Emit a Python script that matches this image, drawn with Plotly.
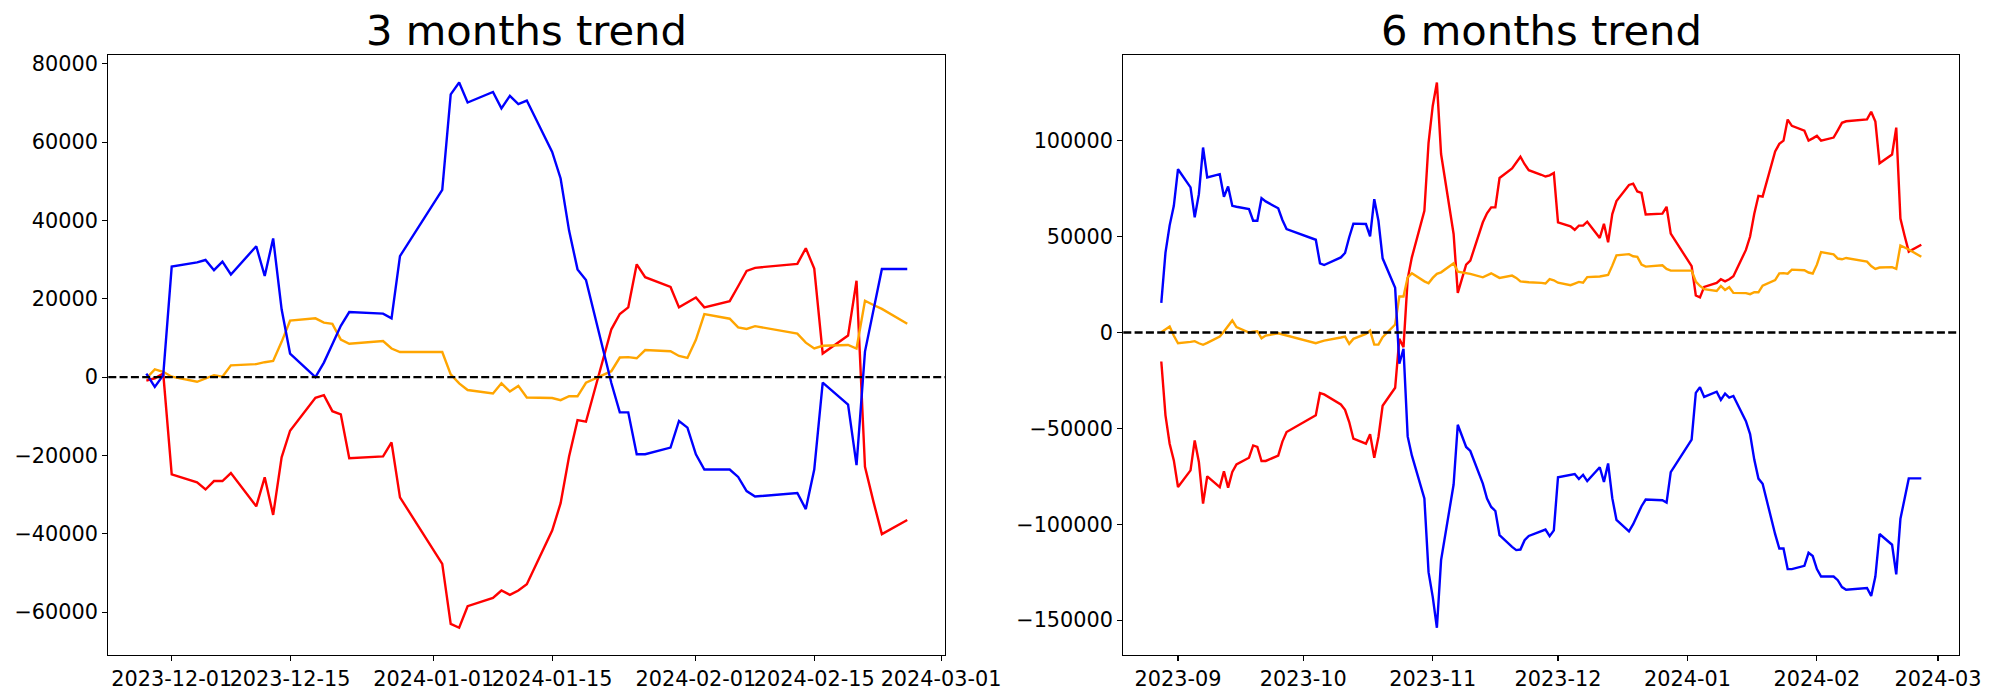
import plotly.graph_objects as go

# ---------------- data: 3 months (trading days) ----------------
dates_3m = ["2023-11-28", "2023-11-29", "2023-11-30", "2023-12-01", "2023-12-04", "2023-12-05",
            "2023-12-06", "2023-12-07", "2023-12-08", "2023-12-11", "2023-12-12", "2023-12-13",
            "2023-12-14", "2023-12-15", "2023-12-18", "2023-12-19", "2023-12-20", "2023-12-21",
            "2023-12-22", "2023-12-26", "2023-12-27", "2023-12-28", "2024-01-02", "2024-01-03",
            "2024-01-04", "2024-01-05", "2024-01-08", "2024-01-09", "2024-01-10", "2024-01-11",
            "2024-01-12", "2024-01-15", "2024-01-16", "2024-01-17", "2024-01-18", "2024-01-19",
            "2024-01-22", "2024-01-23", "2024-01-24", "2024-01-25", "2024-01-26", "2024-01-29",
            "2024-01-30", "2024-01-31", "2024-02-01", "2024-02-02", "2024-02-05", "2024-02-06",
            "2024-02-07", "2024-02-08", "2024-02-13", "2024-02-14", "2024-02-15", "2024-02-16",
            "2024-02-19", "2024-02-20", "2024-02-21", "2024-02-22", "2024-02-23", "2024-02-26"]

blue_3m = [900, -2500, 500, 28200, 29300, 29900, 27300, 29500, 26200, 33400,
           25800, 35400, 17300, 6000, 0, 3700, 8400, 13100, 16600, 16200,
           15000, 30900, 47800, 72200, 75200, 70100, 72800, 68600, 71800, 69700,
           70600, 57500, 50700, 37400, 27500, 24800, -1500, -9000, -9000, -19700,
           -19700, -18000, -11200, -12900, -19700, -23600, -23600, -25500, -29100, -30500,
           -29600, -33700, -23600, -1400, -7000, -22500, 6500, 17500, 27600, 27600]

red_3m = [-900, -300, 900, -24850, -26900, -28700, -26550, -26550, -24500, -33000,
          -25600, -35200, -20500, -13700, -5300, -4600, -8700, -9500, -20700, -20250,
          -16700, -30700, -47700, -63000, -64000, -58500, -56400, -54500, -55600, -54500,
          -52900, -39200, -32200, -20300, -11000, -11400, 12200, 16100, 17800, 28800,
          25500, 23000, 17800, 19000, 20300, 17800, 19400, 23200, 27100, 27900,
          28900, 32900, 27700, 6000, 10600, 24600, -22900, -31800, -40100, -36500]

orange_3m = [-300, 1950, 1350, 100, -1200, -350, 500, 100, 3000, 3300,
             3800, 4100, 9000, 14400, 15000, 13900, 13600, 9600, 8500, 9200,
             7300, 6400, 6400, 700, -1600, -3300, -4200, -1600, -3700, -2250,
             -5200, -5350, -5900, -4900, -4900, -1450, 1500, 5000, 5100, 4800,
             6900, 6600, 5400, 4900, 9500, 16100, 14900, 12700, 12300, 13000,
             11100, 8800, 7300, 8000, 8200, 7300, 19500, 18400, 17400, 13600]

# ---------------- data: 6 months (trading days) ----------------
dates_6m = ["2023-08-28", "2023-08-29", "2023-08-30", "2023-08-31", "2023-09-01", "2023-09-04",
            "2023-09-05", "2023-09-06", "2023-09-07", "2023-09-08", "2023-09-11", "2023-09-12",
            "2023-09-13", "2023-09-14", "2023-09-15", "2023-09-18", "2023-09-19", "2023-09-20",
            "2023-09-21", "2023-09-22", "2023-09-25", "2023-09-26", "2023-09-27", "2023-10-04",
            "2023-10-05", "2023-10-06", "2023-10-10", "2023-10-11", "2023-10-12", "2023-10-13",
            "2023-10-16", "2023-10-17", "2023-10-18", "2023-10-19", "2023-10-20", "2023-10-23",
            "2023-10-24", "2023-10-25", "2023-10-26", "2023-10-27", "2023-10-30", "2023-10-31",
            "2023-11-01", "2023-11-02", "2023-11-03", "2023-11-06", "2023-11-07", "2023-11-08",
            "2023-11-09", "2023-11-10", "2023-11-13", "2023-11-14", "2023-11-15", "2023-11-16",
            "2023-11-17", "2023-11-20", "2023-11-21", "2023-11-22", "2023-11-23", "2023-11-24",
            "2023-11-27",
            "2023-11-28", "2023-11-29", "2023-11-30", "2023-12-01", "2023-12-04", "2023-12-05",
            "2023-12-06", "2023-12-07", "2023-12-08", "2023-12-11", "2023-12-12", "2023-12-13",
            "2023-12-14", "2023-12-15", "2023-12-18", "2023-12-19", "2023-12-20", "2023-12-21",
            "2023-12-22", "2023-12-26", "2023-12-27", "2023-12-28", "2024-01-02", "2024-01-03",
            "2024-01-04", "2024-01-05", "2024-01-08", "2024-01-09", "2024-01-10", "2024-01-11",
            "2024-01-12", "2024-01-15", "2024-01-16", "2024-01-17", "2024-01-18", "2024-01-19",
            "2024-01-22", "2024-01-23", "2024-01-24", "2024-01-25", "2024-01-26", "2024-01-29",
            "2024-01-30", "2024-01-31", "2024-02-01", "2024-02-02", "2024-02-05", "2024-02-06",
            "2024-02-07", "2024-02-08", "2024-02-13", "2024-02-14", "2024-02-15", "2024-02-16",
            "2024-02-19", "2024-02-20", "2024-02-21", "2024-02-22", "2024-02-23", "2024-02-26"]

blue_6m = [15500, 41700, 55900, 66100, 85200, 75700, 60100, 72200, 96500, 80900,
           82600, 70800, 76200, 66100, 65600, 64400, 58300, 58300, 70100, 68400,
           64800, 58700, 54000, 48400, 36100, 35200, 39200, 41500, 49700, 56800,
           56600, 50200, 69600, 58300, 38700, 23300, -16300, -8500, -54200, -64100,
           -86600, -125000, -137900, -154000, -118700, -79300, -48100, -54200, -59700, -61800,
           -78800, -86600, -91000, -93100, -105700, -111800, -113500, -113200, -108300, -106100,
           -103700,
           -102800, -106200, -103200, -75500, -74400, -73800, -76400, -74200, -77500, -70300,
           -77900, -68300, -86400, -97700, -103700, -100000, -95300, -90600, -87100, -87500,
           -88700, -72800, -55900, -31500, -28500, -33600, -30900, -35100, -31900, -34000,
           -33100, -46200, -53000, -66300, -76200, -78900, -105200, -112700, -112700, -123400,
           -123400, -121700, -114900, -116600, -123400, -127300, -127300, -129200, -132800, -134200,
           -133300, -137400, -127300, -105100, -110700, -126200, -97200, -86200, -76100, -76100]

red_6m = [-15100, -43200, -58000, -66700, -80600, -71900, -56300, -67500, -89200, -75000,
          -80600, -72400, -80900, -72700, -68800, -65300, -58900, -59700, -67000, -67000,
          -64200, -56900, -51900, -43200, -31600, -32300, -37500, -40300, -46700, -55400,
          -58000, -53100, -65300, -54500, -38200, -28800, -3300, -7600, 28000, 39200,
          63500, 99000, 118200, 130400, 93100, 51400, 20700, 28800, 35400, 37500,
          57500, 62200, 65300, 65300, 80600, 85600, 88700, 91700, 87800, 84700,
          82300,
          81400, 82000, 83200, 57450, 55400, 53600, 55750, 55750, 57800, 49300,
          56700, 47100, 61800, 68600, 77000, 77700, 73600, 72800, 61600, 62050,
          65600, 51600, 34600, 19300, 18300, 23800, 25900, 27800, 26700, 27800,
          29400, 43100, 50100, 62000, 71300, 70900, 94500, 98400, 100100, 111100,
          107800, 105300, 100100, 101300, 102600, 100100, 101700, 105500, 109400, 110200,
          111200, 115200, 110000, 88300, 92900, 106900, 59400, 50500, 42200, 45800]

orange_6m = [200, 1700, 3100, -1700, -5600, -4900, -4500, -5600, -6400, -5400,
             -2100, 500, 3100, 6300, 2800, 0, 400, 700, -3000, -1600,
             -400, -1000, -1700, -5600, -4900, -4200, -2600, -2100, -5900, -3300,
             -700, 1000, -6300, -6300, -2400, 4200, 18800, 18800, 28800, 30900,
             26700, 25700, 28500, 30600, 31400, 36100, 31800, 31400, 31100, 30600,
             28800, 29900, 30900, 29700, 28500, 29700, 28500, 26700, 26400, 26200,
             25900,
             25600, 27850, 27250, 26000, 24700, 25550, 26400, 26000, 28900, 29200,
             29700, 30000, 34900, 40300, 40900, 39800, 39500, 35500, 34400, 35100,
             33200, 32300, 32300, 26600, 24300, 22600, 21700, 24300, 22200, 23650,
             20700, 20550, 20000, 21000, 21000, 24450, 27400, 30900, 31000, 30700,
             32800, 32500, 31300, 30800, 35400, 42000, 40800, 38600, 38200, 38900,
             37000, 34700, 33200, 33900, 34100, 33200, 45400, 44300, 43300, 39500]

# ---------------- tick labels ----------------
xticks_3m = ["2023-12-01", "2023-12-15", "2024-01-01", "2024-01-15", "2024-02-01", "2024-02-15", "2024-03-01"]
xticks_6m = ["2023-09-01", "2023-10-01", "2023-11-01", "2023-12-01", "2024-01-01", "2024-02-01", "2024-03-01"]
xticklabels_6m = ["2023-09", "2023-10", "2023-11", "2023-12", "2024-01", "2024-02", "2024-03"]
yticks_3m = [-60000, -40000, -20000, 0, 20000, 40000, 60000, 80000]
yticks_6m = [-150000, -100000, -50000, 0, 50000, 100000]
titles = ["3 months trend", "6 months trend"]


def fmt(v):
    return ("\u2212" + str(abs(v))) if v < 0 else str(v)


FONT = "DejaVu Sans"
W, H = 2000, 700
LW = 2.4

fig = go.Figure()

panels = [
    (dates_3m, blue_3m, red_3m, orange_3m, "x", "y"),
    (dates_6m, blue_6m, red_6m, orange_6m, "x2", "y2"),
]
for dts, b, r, o, xa, ya in panels:
    for series, color in [(r, "red"), (o, "orange"), (b, "blue")]:
        fig.add_trace(go.Scatter(x=dts, y=series, mode="lines",
                                 line=dict(color=color, width=LW),
                                 xaxis=xa, yaxis=ya, showlegend=False,
                                 hoverinfo="skip"))
    fig.add_shape(type="line", xref=xa + " domain", yref=ya, x0=0, x1=1, y0=0, y1=0,
                  line=dict(color="black", width=LW, dash="8px,3.3px"), layer="above")

common_axis = dict(showline=True, linecolor="black", linewidth=1.1, mirror=True,
                   ticks="outside", ticklen=5, tickwidth=1.1, tickcolor="black",
                   showgrid=False, zeroline=False, automargin=False, tickangle=0,
                   tickfont=dict(family=FONT, size=20.8, color="black"))

yd = [45 / H, 644.7 / H]
fig.update_layout(
    width=W, height=H, template="none",
    paper_bgcolor="white", plot_bgcolor="white",
    margin=dict(l=0, r=0, t=0, b=0),
    showlegend=False,
    xaxis=dict(domain=[108.3 / W, 945.3 / W], anchor="y", type="date",
               range=["2023-11-23 12:00", "2024-03-01 12:00"],
               tickmode="array", tickvals=xticks_3m, ticktext=xticks_3m, **common_axis),
    yaxis=dict(domain=yd, anchor="x", range=[-70960, 82160],
               tickmode="array", tickvals=yticks_3m, ticktext=[fmt(v) for v in yticks_3m], **common_axis),
    xaxis2=dict(domain=[1123.3 / W, 1959.3 / W], anchor="y2", type="date",
                range=["2023-08-18 21:36", "2024-03-06 02:24"],
                tickmode="array", tickvals=xticks_6m, ticktext=xticklabels_6m, **common_axis),
    yaxis2=dict(domain=yd, anchor="x2", range=[-168220, 144620],
                tickmode="array", tickvals=yticks_6m, ticktext=[fmt(v) for v in yticks_6m], **common_axis),
)

for title, cx in zip(titles, [526.8 / W, 1541.3 / W]):
    fig.add_annotation(text=title, x=cx, y=(H - 31) / H, xref="paper", yref="paper",
                       xanchor="center", yanchor="middle", showarrow=False,
                       font=dict(family=FONT, size=41.67, color="black"))

fig.write_html("out.html",
               config={"displayModeBar": False, "staticPlot": True},
               post_script="document.body.style.margin='0';document.body.style.padding='0';"
                           "document.body.style.overflow='hidden';")
